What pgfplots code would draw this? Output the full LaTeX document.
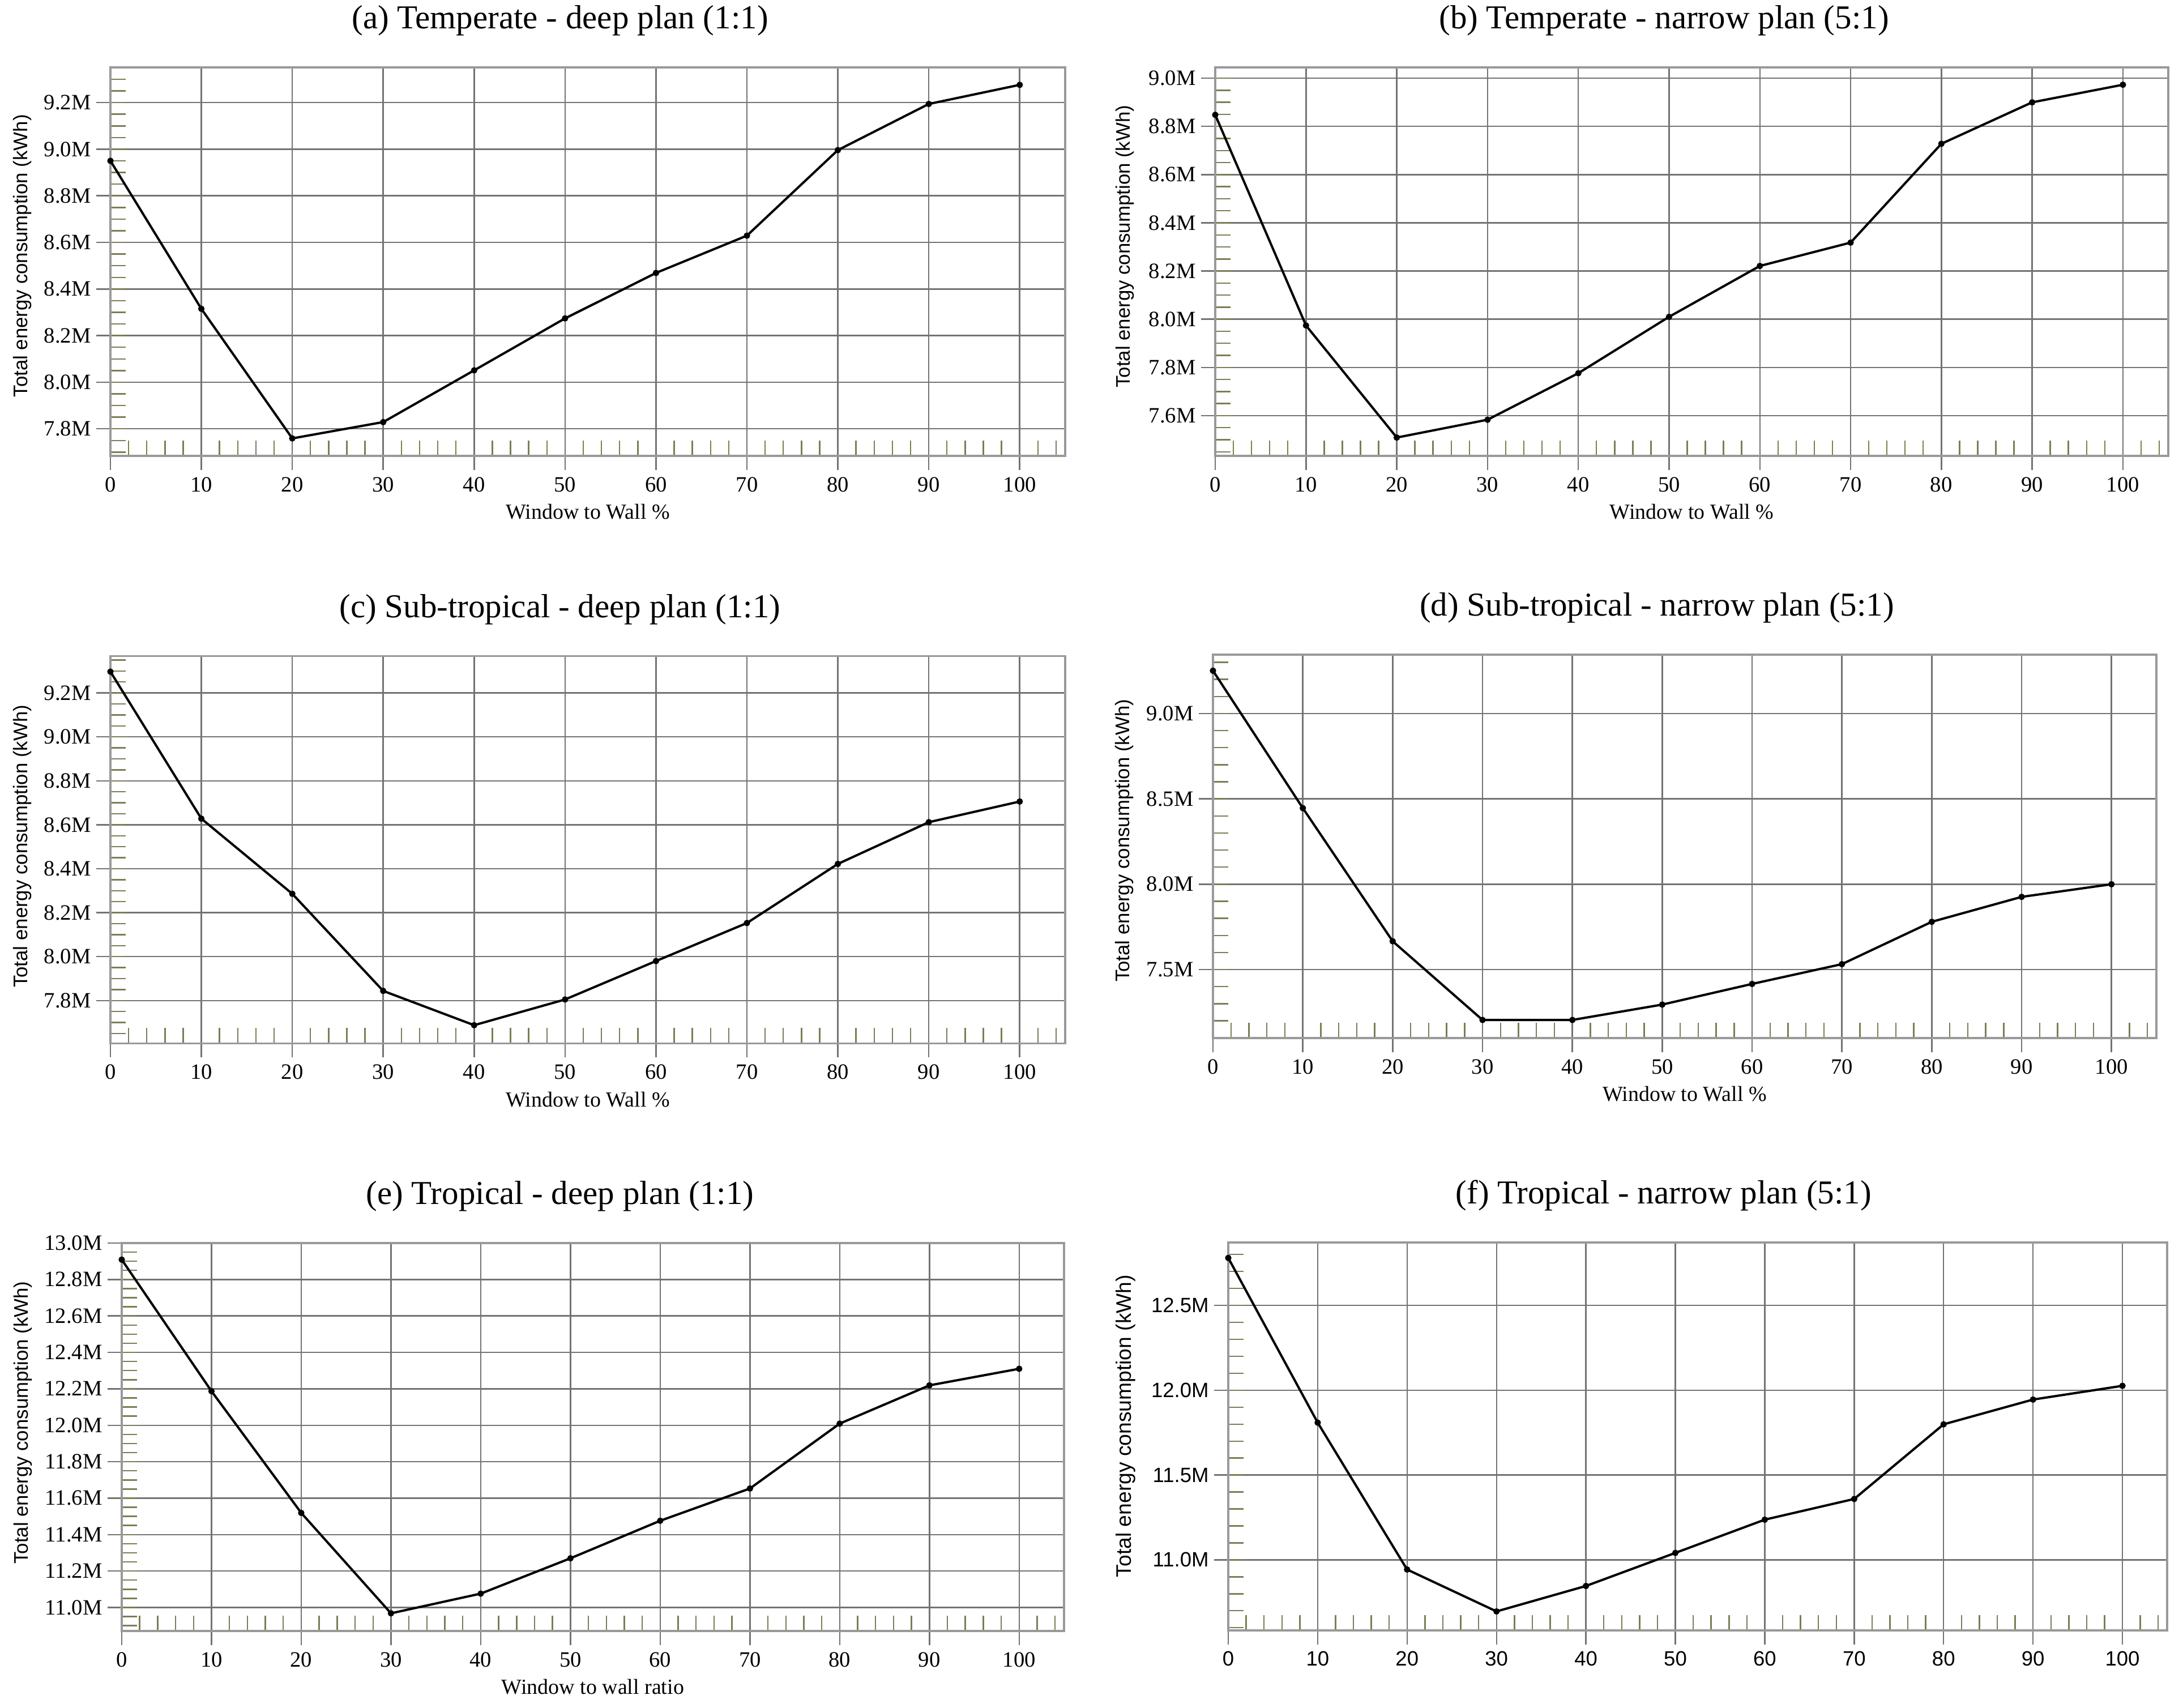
\documentclass[border=0pt]{standalone}
\usepackage{fontspec}
\setmainfont{Liberation Serif}
\newfontfamily\sansf{Liberation Sans}
\usepackage{pgfplots}
\pgfplotsset{compat=1.18}
\definecolor{olivetick}{RGB}{125,125,85}
\pgfplotsset{
 panel/.style={
  scale only axis, anchor=south west,
  xmin=0, xmax=105,
  xtick={0,10,...,100},
  minor xtick={2,4,6,8,12,14,16,18,22,24,26,28,32,34,36,38,42,44,46,48,52,54,56,58,62,64,66,68,72,74,76,78,82,84,86,88,92,94,96,98,102,104},
  xtick pos=bottom, ytick pos=left,
  grid=major,
  major grid style={line width=0.7pt, black!55},
  axis line style={line width=1pt, black!40},
  tick align=inside,
  major tick length=-0.25cm,
  minor tick length=0.27cm,
  major tick style={line width=0.7pt, black!55},
  minor tick style={line width=0.7pt, olivetick},
  /pgf/number format/assume math mode=true,
  ticklabel style={font=\fontsize{11}{12}\selectfont},
  yticklabel style={xshift=-0.22cm},
  xticklabel style={yshift=-0.25cm},
  title style={font=\fontsize{16.8}{20}\selectfont, at={(axis description cs:0.5,1)}, anchor=base, yshift=0.47cm, xshift=-0.49cm},
  xlabel style={font=\fontsize{10.8}{12}\selectfont, at={(axis description cs:0.5,0)}, anchor=north, yshift=-0.73cm},
  ylabel style={font=\sansf\fontsize{9.9}{11}\selectfont, anchor=center},
 },
 curve/.style={black, line width=1.15pt, mark=*, mark size=1.0pt, mark options={solid, fill=black}},
}
\begin{document}
\begin{tikzpicture}
\path[use as bounding box] (0cm,0cm) rectangle (38.55cm,30.15cm);

% (a)
\begin{axis}[panel, at={(1.95cm,22.10cm)}, width=16.86cm, height=6.86cm,
  ymin=7.684, ymax=9.351,
  ytick={7.8,8.0,8.2,8.4,8.6,8.8,9.0,9.2},
  yticklabels={7.8M,8.0M,8.2M,8.4M,8.6M,8.8M,9.0M,9.2M},
  minor ytick={7.70,7.75,...,9.36},
  title={(a) Temperate - deep plan (1:1)},
  xlabel={Window to Wall \%},
  ylabel={Total energy consumption (kWh)},
  ylabel style={at={(axis description cs:-0.092,0.515)}}]
\addplot[curve] coordinates {(0,8.950) (10,8.315) (20,7.759) (30,7.829) (40,8.051) (50,8.274) (60,8.469) (70,8.629) (80,8.996) (90,9.194) (100,9.276)};
\end{axis}

% (b)
\begin{axis}[panel, at={(21.46cm,22.10cm)}, width=16.83cm, height=6.86cm,
  ymin=7.433, ymax=9.045,
  ytick={7.6,7.8,8.0,8.2,8.4,8.6,8.8,9.0},
  yticklabels={7.6M,7.8M,8.0M,8.2M,8.4M,8.6M,8.8M,9.0M},
  minor ytick={7.45,7.50,...,9.01},
  title={(b) Temperate - narrow plan (5:1)},
  xlabel={Window to Wall \%},
  ylabel={Total energy consumption (kWh)},
  ylabel style={at={(axis description cs:-0.095,0.539)}}]
\addplot[curve] coordinates {(0,8.848) (10,7.974) (20,7.509) (30,7.583) (40,7.776) (50,8.010) (60,8.221) (70,8.318) (80,8.728) (90,8.900) (100,8.973)};
\end{axis}

% (c)
\begin{axis}[panel, at={(1.95cm,11.725cm)}, width=16.86cm, height=6.84cm,
  ymin=7.605, ymax=9.368,
  ytick={7.8,8.0,8.2,8.4,8.6,8.8,9.0,9.2},
  yticklabels={7.8M,8.0M,8.2M,8.4M,8.6M,8.8M,9.0M,9.2M},
  minor ytick={7.65,7.70,...,9.36},
  title={(c) Sub-tropical - deep plan (1:1)},
  xlabel={Window to Wall \%},
  ylabel={Total energy consumption (kWh)},
  ylabel style={at={(axis description cs:-0.092,0.509)}}]
\addplot[curve] coordinates {(0,9.297) (10,8.628) (20,8.286) (30,7.844) (40,7.688) (50,7.805) (60,7.980) (70,8.153) (80,8.422) (90,8.612) (100,8.706)};
\end{axis}

% (d)
\begin{axis}[panel, at={(21.42cm,11.82cm)}, width=16.66cm, height=6.77cm,
  ymin=7.099, ymax=9.345,
  ytick={7.5,8.0,8.5,9.0},
  yticklabels={7.5M,8.0M,8.5M,9.0M},
  minor ytick={7.1,7.2,...,9.31},
  title={(d) Sub-tropical - narrow plan (5:1)},
  xlabel={Window to Wall \%},
  ylabel={Total energy consumption (kWh)},
  ylabel style={at={(axis description cs:-0.094,0.515)}}]
\addplot[curve] coordinates {(0,9.251) (10,8.446) (20,7.666) (30,7.205) (40,7.205) (50,7.295) (60,7.416) (70,7.532) (80,7.780) (90,7.926) (100,8.000)};
\end{axis}

% (e)
\begin{axis}[panel, at={(2.15cm,1.35cm)}, width=16.64cm, height=6.85cm,
  ymin=10.871, ymax=13.0,
  ytick={11.0,11.2,11.4,11.6,11.8,12.0,12.2,12.4,12.6,12.8,13.0},
  yticklabels={11.0M,11.2M,11.4M,11.6M,11.8M,12.0M,12.2M,12.4M,12.6M,12.8M,13.0M},
  minor ytick={10.90,10.95,...,13.0},
  title={(e) Tropical - deep plan (1:1)},
  title style={xshift=-0.09cm},
  xlabel={Window to wall ratio},
  ylabel={Total energy consumption (kWh)},
  ylabel style={at={(axis description cs:-0.105,0.537)}}]
\addplot[curve] coordinates {(0,12.909) (10,12.187) (20,11.519) (30,10.968) (40,11.076) (50,11.270) (60,11.476) (70,11.653) (80,12.009) (90,12.219) (100,12.310)};
\end{axis}

% (f)
\begin{axis}[panel, at={(21.69cm,1.36cm)}, width=16.58cm, height=6.85cm,
  ymin=10.584, ymax=12.871,
  ytick={11.0,11.5,12.0,12.5},
  yticklabels={11.0M,11.5M,12.0M,12.5M},
  minor ytick={10.6,10.7,...,12.81},
  ticklabel style={font=\sansf\fontsize{10.4}{12}\selectfont},
  title={(f) Tropical - narrow plan (5:1)},
  title style={xshift=-0.11cm},
  ylabel={Total energy consumption (kWh)},
  ylabel style={font=\sansf\fontsize{10.6}{12}\selectfont, at={(axis description cs:-0.109,0.527)}}]
\addplot[curve] coordinates {(0,12.780) (10,11.809) (20,10.943) (30,10.696) (40,10.846) (50,11.041) (60,11.237) (70,11.359) (80,11.799) (90,11.945) (100,12.026)};
\end{axis}
\end{tikzpicture}
\end{document}
